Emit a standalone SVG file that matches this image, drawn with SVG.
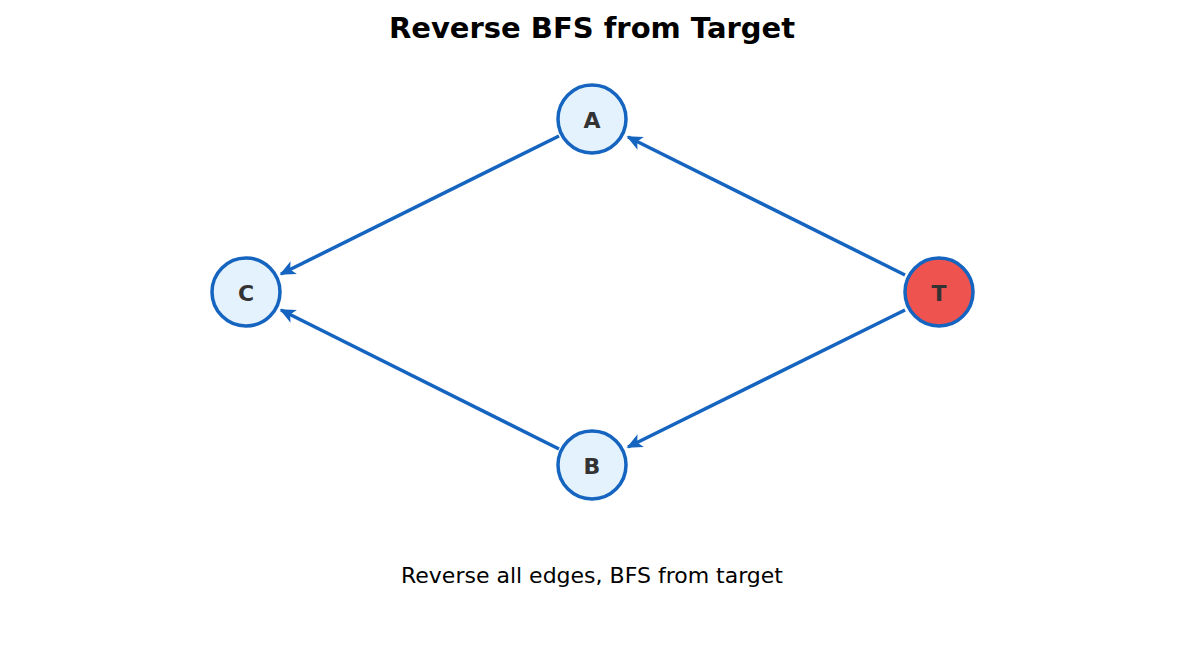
<svg xmlns="http://www.w3.org/2000/svg" width="1185" height="654" viewBox="0 0 1185 654">
<style>
.n{fill:#E3F2FD;stroke:#1565C0;stroke-width:3.5}
.l{font-family:"DejaVu Sans",sans-serif;font-weight:bold;font-size:22px;fill:#333;text-anchor:middle;dominant-baseline:central}
.e{stroke:#1565C0;stroke-width:3.5;fill:none;marker-end:url(#ar)}
</style>
<defs><marker id="ar" viewBox="0 0 10 10" refX="9" refY="5" markerWidth="4.5" markerHeight="4.5" orient="auto" markerUnits="strokeWidth"><path d="M0,0.5 L10,5 L0,9.5 L2.5,5 Z" fill="#1565C0"/></marker></defs>
<rect width="1185" height="654" fill="#fff"/>
<text x="592" y="28" font-family="DejaVu Sans,sans-serif" font-weight="bold" font-size="29" text-anchor="middle" dominant-baseline="central">Reverse BFS from Target</text>
<g id="connectors">
<line class="e" x1="559" y1="136" x2="281" y2="274"/>
<line class="e" x1="905" y1="275" x2="628" y2="137"/>
<line class="e" x1="905" y1="310" x2="628" y2="447"/>
<line class="e" x1="559" y1="449" x2="281" y2="310"/>
</g>
<g id="A"><circle class="n" cx="592" cy="119" r="34"/><text class="l" x="592" y="120">A</text></g>
<g id="C"><circle class="n" cx="246" cy="292" r="34"/><text class="l" x="246" y="293">C</text></g>
<g id="T"><circle class="n" cx="939" cy="292" r="34" style="fill:#EF5350"/><text class="l" x="939" y="293">T</text></g>
<g id="B"><circle class="n" cx="592" cy="465" r="34"/><text class="l" x="592" y="466">B</text></g>
<text x="592" y="575" font-family="DejaVu Sans,sans-serif" font-size="22" text-anchor="middle" dominant-baseline="central">Reverse all edges, BFS from target</text>
</svg>
